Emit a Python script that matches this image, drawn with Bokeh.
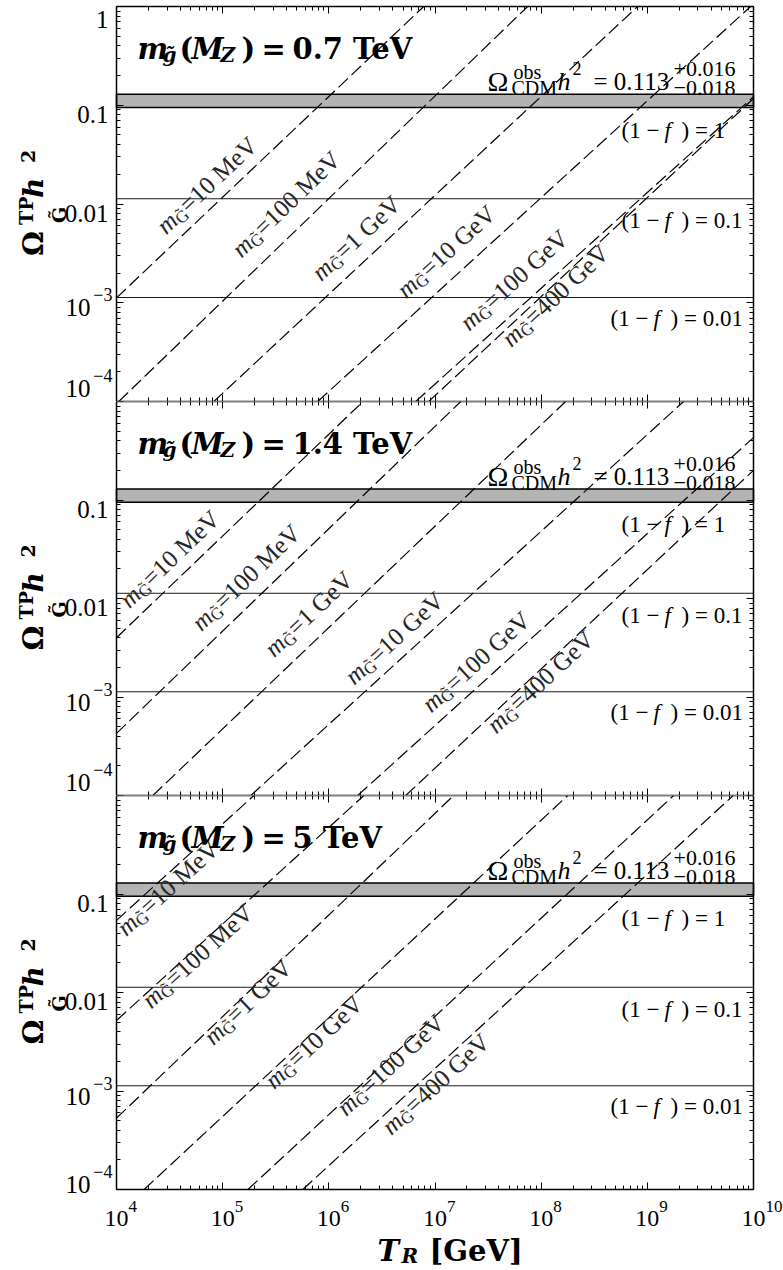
import math

from bokeh.embed import file_html
from bokeh.layouts import column
from bokeh.models import CustomJSTickFormatter, FixedTicker, Label, LogAxis, Range1d
from bokeh.plotting import figure
from bokeh.resources import INLINE

SERIF = "Liberation Serif"
BOLD = "DejaVu Serif"

# ---------------------------------------------------------------- data
gravitino_masses = ["10 MeV", "100 MeV", "1 GeV", "10 GeV", "100 GeV", "400 GeV"]
gluino_masses = ["0.7", "1.4", "5"]

# entry / exit points (T_R [GeV], Omega h^2) of each curve inside the window
tr_start_07 = [1.0e4, 1.05e4, 8.25e4, 7.86e5, 6.58e6, 8.73e6]
om_start_07 = [1.12e-3, 1e-4, 1e-4, 1e-4, 1e-4, 1e-4]
tr_end_07 = [7.83e6, 7.46e7, 8.11e8, 9.4e9, 1e10, 1e10]
om_end_07 = [1.0, 1.0, 1.0, 1.0, 0.122, 0.117]

tr_start_14 = [1.0e4, 1.0e4, 2.2e4, 1.84e5, 1.87e6, 5.3e6]
om_start_14 = [4.0e-3, 4.27e-4, 1e-4, 1e-4, 1e-4, 1e-4]
tr_end_14 = [2.1e6, 1.75e7, 1.70e8, 2.2e9, 1e10, 1e10]
om_end_14 = [1.0, 1.0, 1.0, 1.0, 0.43, 0.2]

tr_start_5 = [1.0e4, 1.0e4, 1.0e4, 1.82e4, 1.73e5, 5.68e5]
om_start_5 = [0.054, 5.2e-3, 5.3e-4, 1e-4, 1e-4, 1e-4]
tr_end_5 = [1.97e5, 2.14e6, 1.5e7, 1.78e8, 1.77e9, 6.45e9]
om_end_5 = [1.0, 1.0, 1.0, 1.0, 1.0, 1.0]

omega_cdm = 0.113
omega_cdm_lo = 0.095
omega_cdm_hi = 0.129
one_minus_f = [1.0, 0.1, 0.01]
one_minus_f_text = ["1", "0.1", "0.01"]

x_major = [1e4, 1e5, 1e6, 1e7, 1e8, 1e9, 1e10]
y_major = [1e-4, 1e-3, 1e-2, 1e-1, 1.0]

# ---------------------------------------------------------------- layout
T_MIN, T_MAX = 1e4, 1e10
OM_MIN, OM_MAX = 1e-4, 1.0
WIDTH, LEFT, RIGHT = 783, 116, 30
PX_X = (WIDTH - LEFT - RIGHT) / 6.0

x_minor = [m * 10.0 ** k for k in range(4, 10) for m in range(2, 10)]
y_minor = [m * 10.0 ** k for k in range(-4, 0) for m in range(2, 10)]

# curve labels: start of the text (px right of the left frame edge) and
# how far the text start sits above (+) or below (-) its curve, in px
label_x = [
    [44, 119, 199, 284, 347, 389],
    [7, 79, 152, 232, 309, 374],
    [4, 29, 91, 152, 224, 269],
]
label_up = [
    [27, 36, 31, 33, 33, -12],
    [28, 31, 33, 27, 27, -12],
    [-14, -9, -9, -10, -7, -16],
]


def put(p, text, dx, dy, size, font=SERIF, style="normal", align="left",
        angle=0.0, x=T_MIN, y=OM_MAX, color="black"):
    """Text anchored at a data point, shifted dx right / dy down in pixels."""
    p.add_layout(Label(x=x, y=y, x_offset=dx, y_offset=-dy, text=text,
                       text_font=font, text_font_size=f"{size}px",
                       text_font_style=style, text_align=align,
                       text_baseline="alphabetic", angle=angle,
                       text_color=color))


def frame_axis(loc, bounds, major, minor):
    ax = LogAxis(fixed_location=loc, bounds=bounds)
    ax.ticker = FixedTicker(ticks=major, minor_ticks=minor)
    ax.formatter = CustomJSTickFormatter(code="return ''")
    ax.major_tick_in = 7
    ax.major_tick_out = 0
    ax.minor_tick_in = 4
    ax.minor_tick_out = 0
    ax.major_tick_line_width = 1
    ax.minor_tick_line_width = 1
    ax.axis_line_width = 1.5
    ax.major_label_text_font_size = "1px"
    ax.major_label_standoff = 0
    return ax


def make_panel(i, tr_s, om_s, tr_e, om_e, top, frame_h, bottom):
    px_y = frame_h / 4.0
    height = top + frame_h + bottom
    x_range = Range1d(10 ** (4 - LEFT / PX_X), 10 ** (10 + RIGHT / PX_X))
    y_range = Range1d(10 ** (-4 - bottom / px_y), 10 ** (top / px_y))
    p = figure(width=WIDTH, height=height,
               x_axis_type="log", y_axis_type="log",
               x_range=x_range, y_range=y_range,
               x_axis_location=None, y_axis_location=None,
               output_backend="svg", toolbar_location=None, min_border=0)
    p.grid.visible = False
    p.outline_line_color = None

    p.add_layout(frame_axis(OM_MIN, (T_MIN, T_MAX), x_major, x_minor), "below")
    p.add_layout(frame_axis(OM_MAX, (T_MIN, T_MAX), x_major, x_minor), "above")
    p.add_layout(frame_axis(T_MIN, (OM_MIN, OM_MAX), y_major, y_minor), "left")
    p.add_layout(frame_axis(T_MAX, (OM_MIN, OM_MAX), y_major, y_minor), "right")

    # (1-f) Omega_CDM levels, observed band on top of them
    levels = [omega_cdm * f for f in one_minus_f]
    p.segment(x0=[T_MIN] * 3, x1=[T_MAX] * 3, y0=levels, y1=levels,
              line_color="#1a1a1a", line_width=1)
    p.quad(left=[T_MIN], right=[T_MAX], bottom=[omega_cdm_lo], top=[omega_cdm_hi],
           fill_color="#b3b3b3", line_color="black", line_width=1.5)

    # gravitino abundance curves
    for k in range(len(gravitino_masses)):
        p.line([tr_s[k], tr_e[k]], [om_s[k], om_e[k]], line_color="black",
               line_width=1.2, line_dash="13 5")

    # rotated curve labels
    for k, mass in enumerate(gravitino_masses):
        lt1, lt2 = math.log10(tr_s[k]), math.log10(tr_e[k])
        lo1, lo2 = math.log10(om_s[k]), math.log10(om_e[k])
        t_lab = 10 ** (4 + label_x[i][k] / PX_X)
        frac = (math.log10(t_lab) - lt1) / (lt2 - lt1)
        om_lab = 10 ** (lo1 + frac * (lo2 - lo1))
        ang = math.atan2((lo2 - lo1) * px_y, (lt2 - lt1) * PX_X)
        c, s = math.cos(ang), math.sin(ang)
        v = label_up[i][k]
        for txt, a, q, size, sty in [("m", 0, 0, 25, "italic"),
                                     ("G\u0303", 18, -6, 17, "normal"),
                                     ("=" + mass, 31, 0, 25, "normal")]:
            dx = a * c - q * s
            dy = a * s + q * c + v
            put(p, txt, dx, -dy, size, style=sty, angle=ang, x=t_lab, y=om_lab,
                color="#262626")

    # panel title  m_g~(M_Z) = ... TeV
    put(p, "m", 21, 42.5, 29, font=BOLD, style="bold italic")
    put(p, "g\u0303", 46, 48, 20, font=BOLD, style="bold italic")
    put(p, "(", 63, 42.5, 29, font=BOLD, style="bold")
    put(p, "M", 75, 42.5, 29, font=BOLD, style="bold italic")
    put(p, "Z", 104, 48, 20, font=BOLD, style="bold italic")
    put(p, ")", 125, 42.5, 29, font=BOLD, style="bold")
    put(p, "=", 145, 42.5, 29, font=BOLD, style="bold")
    put(p, gluino_masses[i] + " TeV", 176, 42.5, 29, font=BOLD, style="bold")

    # Omega_CDM^obs h^2 = 0.113 (+0.016 / -0.018)
    put(p, "\u03a9", 371, 74.5, 28)
    put(p, "obs", 397, 65.5, 20)
    put(p, "CDM", 395, 81.5, 20)
    put(p, "h", 441, 74.5, 26, style="italic")
    put(p, "2", 456, 62, 18)
    put(p, "= 0.113", 477, 74.5, 25)
    put(p, "+0.016", 557, 62.5, 22)
    put(p, "\u22120.018", 557, 81.5, 22)

    # (1-f) labels under each level
    for f, ftxt, shift in zip(one_minus_f, one_minus_f_text, [30, 22, 21]):
        x0 = 494 if len(ftxt) > 3 else 505
        y_lev = omega_cdm * f
        put(p, "(1 \u2212 ", x0, shift, 23, y=y_lev)
        put(p, "f", x0 + 43, shift, 23, style="italic", y=y_lev)
        put(p, ") = " + ftxt, x0 + 60, shift, 23, y=y_lev)

    # y tick labels (the lowest one is lifted clear of the panel edge)
    for t in y_major:
        if i > 0 and t == OM_MAX:
            continue
        e = round(math.log10(t))
        lift = (10 if i == 2 else 18) if t == OM_MIN else 0
        if e >= -2:
            drop = 13 if t == OM_MAX else 9
            put(p, f"{t:g}", -8, drop, 25, align="right", y=t)
        else:
            put(p, "10", -26, 5 - lift, 25, align="right", y=t)
            put(p, "\u2212" + str(-e), -4, -8 - lift, 18, align="right", y=t)

    # y axis title  Omega^TP_G~ h^2
    yc = frame_h / 2.0
    put(p, "\u03a9", -83, yc + 52, 28, font=BOLD, style="bold", angle=math.pi / 2)
    put(p, "TP", -91, yc + 21, 19, font=BOLD, style="bold", angle=math.pi / 2)
    put(p, "G\u0303", -58, yc + 19, 19, font=BOLD, style="bold", angle=math.pi / 2)
    put(p, "h", -83, yc - 6, 28, font=BOLD, style="bold italic", angle=math.pi / 2)
    put(p, "2", -89, yc - 41, 19, font=BOLD, style="bold", angle=math.pi / 2)

    return p


p1 = make_panel(0, tr_start_07, om_start_07, tr_end_07, om_end_07, 6, 395, 0)
p2 = make_panel(1, tr_start_14, om_start_14, tr_end_14, om_end_14, 0, 394, 0)
p3 = make_panel(2, tr_start_5, om_start_5, tr_end_5, om_end_5, 0, 394, 81)

# x tick labels and title on the bottom panel
for t in x_major:
    e = round(math.log10(t))
    put(p3, "10", 0, 29, 24, align="center", x=t, y=OM_MIN)
    put(p3, str(e), 12, 17, 17, x=t, y=OM_MIN)

put(p3, "T", 261, 61, 29, font=BOLD, style="bold italic", y=OM_MIN)
put(p3, "R", 285, 66, 20, font=BOLD, style="bold italic", y=OM_MIN)
put(p3, "[GeV]", 313, 61, 29, font=BOLD, style="bold", y=OM_MIN)

layout = column(p1, p2, p3)
open("out.html", "w").write(file_html(layout, INLINE))
